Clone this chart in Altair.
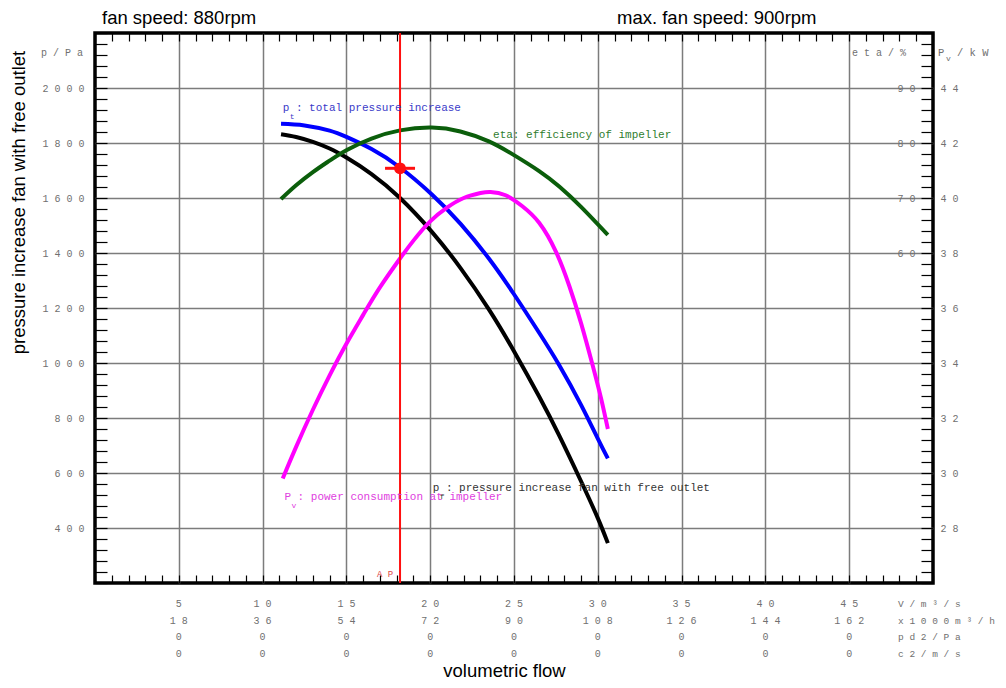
import altair as alt
import pandas as pd

# ---------------- values ----------------
pt_flow = [11.1, 12.5, 14.0, 15.0, 16.5, 18.2, 20.1, 21.8, 23.5, 25.0, 26.5, 27.7, 29.0, 30.0, 30.6]
pt_pa = [1870, 1864, 1845, 1822, 1778, 1711, 1613, 1507, 1380, 1250, 1110, 992, 848, 725, 653]

pf_flow = [11.1, 12.0, 13.0, 14.0, 15.0, 16.5, 18.2, 20.1, 21.8, 23.5, 25.0, 26.5, 27.7, 29.0, 30.0, 30.6]
pf_pa = [1832, 1822, 1804, 1780, 1747, 1687, 1600, 1477, 1346, 1195, 1043, 878, 736, 570, 436, 345]

eta_flow = [11.1, 12.0, 13.0, 14.0, 15.0, 16.5, 18.2, 20.1, 21.8, 23.5, 25.0, 26.5, 27.7, 29.0, 30.6]
eta_pct = [69.8, 72.3, 74.7, 76.8, 78.7, 80.8, 82.3, 82.8, 82.1, 80.3, 77.8, 74.9, 72.1, 68.4, 63.3]

pv_flow = [11.2, 12.0, 13.0, 14.0, 15.0, 16.0, 17.0, 18.2, 19.0, 20.0, 21.0, 22.0, 23.0, 23.6,
           24.5, 25.5, 26.5, 27.5, 28.3, 29.0, 29.7, 30.2, 30.6]
pv_kw = [29.8, 30.95, 32.3, 33.55, 34.7, 35.75, 36.75, 37.8, 38.45, 39.15, 39.65, 40.0, 40.18, 40.22,
         40.1, 39.7, 39.1, 38.05, 36.8, 35.45, 33.9, 32.7, 31.6]

ap_flow = [18.2]
ap_pa = [1708]

flow_ticks = [5, 10, 15, 20, 25, 30, 35, 40, 45]
flow_m3h = [18, 36, 54, 72, 90, 108, 126, 144, 162]
pd2_pa = [0, 0, 0, 0, 0, 0, 0, 0, 0]
c2_ms = [0, 0, 0, 0, 0, 0, 0, 0, 0]
unit_rows = ["V/m³/s", "x1000m³/h", "pd2/Pa", "c2/m/s"]

p_ticks = [400, 600, 800, 1000, 1200, 1400, 1600, 1800, 2000]
eta_ticks = [60, 70, 80, 90]
pv_ticks = [28, 30, 32, 34, 36, 38, 40, 42, 44]

curve_names = ["pt", "eta", "pf", "pv"]
curve_text = ["p  : total pressure increase",
              "eta: efficiency of impeller",
              "p  : pressure increase fan with free outlet",
              "P  : power consumption at impeller"]
curve_sub = ["t", "", "f", "v"]
label_flow = [11.2, 23.75, 20.15, 11.3]
label_pa = [1927, 1829, 545, 513]
label_colors = ["#3a3ac8", "#2e7d2e", "#333333", "#e040e0"]

# ---------------- styling ----------------
W, H = 838, 550
MONO = "Liberation Mono"
SANS = "Liberation Sans"
GRAY = "#707070"
GRID = "#7c7c7c"
SPACED = "join(split(format(datum.value, 'd'), ''), ' ')"


def sp(s):
    return " ".join(str(s))


X = alt.Scale(domain=[0, 50], nice=False, zero=False)
P = alt.Scale(domain=[200, 2200], nice=False, zero=False)
ETA = alt.Scale(domain=[0, 100], nice=False, zero=False)
PV = alt.Scale(domain=[26, 46], nice=False, zero=False)

minor_x = list(range(0, 51))
minor_p = list(range(200, 2201, 40))
minor_pv = [round(26 + 0.4 * i, 1) for i in range(51)]

pt_df = pd.DataFrame({"flow": pt_flow, "v": pt_pa})
pf_df = pd.DataFrame({"flow": pf_flow, "v": pf_pa})
eta_df = pd.DataFrame({"flow": eta_flow, "v": eta_pct})
pv_df = pd.DataFrame({"flow": pv_flow, "v": pv_kw})
ap_df = pd.DataFrame({"flow": ap_flow, "v": ap_pa})
lab_df = pd.DataFrame({"name": curve_names, "txt": curve_text, "sub": curve_sub,
                       "flow": label_flow, "v": label_pa})
bottom_df = pd.DataFrame({
    "flow": flow_ticks,
    "txt": ["\n".join([sp(a), sp(b), sp(c), sp(d)])
            for a, b, c, d in zip(flow_ticks, flow_m3h, pd2_pa, c2_ms)],
})

line_kw = dict(strokeWidth=4, interpolate="natural")
TITLE_SIZE = 18.5

# black curve: grid axes + titles
pf_line = alt.Chart(pf_df).mark_line(color="black", **line_kw).encode(
    x=alt.X("flow:Q", scale=X, axis=alt.Axis(
        orient="bottom", values=flow_ticks, grid=True, gridColor=GRID, gridWidth=1.5,
        domain=False, ticks=False, labels=False, zindex=0,
        title="volumetric flow", titleFont=SANS, titleFontSize=TITLE_SIZE, titleFontWeight="normal",
        titleColor="black", titleX=409, titleY=93, titleAlign="center", titleBaseline="alphabetic")),
    y=alt.Y("v:Q", scale=P, axis=alt.Axis(
        orient="left", values=p_ticks, grid=True, gridColor=GRID, gridWidth=1.5,
        domain=False, ticks=False, labels=False, zindex=0,
        title="pressure increase fan with free outlet", titleFont=SANS, titleFontSize=TITLE_SIZE,
        titleFontWeight="normal", titleColor="black", titleAngle=270, titleX=-71, titleY=169,
        titleAlign="center", titleBaseline="alphabetic")),
)

# blue curve: bottom ticks + left pressure axis
pt_line = alt.Chart(pt_df).mark_line(color="#0000ff", **line_kw).encode(
    x=alt.X("flow:Q", scale=X, axis=alt.Axis(
        orient="bottom", values=minor_x, offset=-8, tickSize=8, tickColor="black", tickWidth=1.2,
        domain=False, labels=False, grid=False, title=None, zindex=1)),
    y=alt.Y("v:Q", scale=P, axis=alt.Axis(
        orient="left", values=minor_p, offset=-12, tickSize=12, tickColor="black", tickWidth=1.2,
        domain=False, grid=False, title=None, zindex=1,
        labelExpr=f"indexof({p_ticks}, datum.value) >= 0 ? {SPACED} : ''",
        labelFont=MONO, labelFontSize=10, labelColor=GRAY, labelPadding=11,
        labelAlign="right", labelBaseline="middle", labelOverlap=False, labelFlush=False)),
)

# green curve: top ticks + eta axis
eta_line = alt.Chart(eta_df).mark_line(color="#0b5e0b", **line_kw).encode(
    x=alt.X("flow:Q", scale=X, axis=alt.Axis(
        orient="top", values=minor_x, offset=-8, tickSize=8, tickColor="black", tickWidth=1.2,
        domain=False, labels=False, grid=False, title=None, zindex=1)),
    y=alt.Y("v:Q", scale=ETA, axis=alt.Axis(
        orient="right", values=eta_ticks, offset=-18, ticks=False, domain=False, grid=False,
        title=None, zindex=1, labelExpr=SPACED, labelFont=MONO, labelFontSize=10,
        labelColor=GRAY, labelPadding=0, labelAlign="right", labelBaseline="middle",
        labelOverlap=False, labelFlush=False)),
)

# magenta curve: right power axis
pv_line = alt.Chart(pv_df).mark_line(color="#ff00ff", **line_kw).encode(
    x=alt.X("flow:Q", scale=X, axis=None),
    y=alt.Y("v:Q", scale=PV, axis=alt.Axis(
        orient="right", values=minor_pv, offset=-12, tickSize=12, tickColor="black", tickWidth=1.2,
        domain=False, grid=False, title=None, zindex=1,
        labelExpr=f"indexof({pv_ticks}, datum.value) >= 0 ? {SPACED} : ''",
        labelFont=MONO, labelFontSize=10, labelColor=GRAY, labelPadding=7,
        labelAlign="left", labelBaseline="middle", labelOverlap=False, labelFlush=False)),
)

# operating point
ap_rule = alt.Chart(ap_df).mark_rule(color="#ff1010", strokeWidth=2).encode(
    x=alt.X("flow:Q", scale=X, axis=None))
ap_bar = alt.Chart(ap_df).mark_point(shape="M-1,0L1,0", size=900, filled=False, stroke="#ff1010",
                                     strokeWidth=3, opacity=1).encode(
    x=alt.X("flow:Q", scale=X, axis=None), y=alt.Y("v:Q", scale=P, axis=None))
ap_dot = alt.Chart(ap_df).mark_circle(size=140, color="#ff1010", opacity=1).encode(
    x=alt.X("flow:Q", scale=X, axis=None), y=alt.Y("v:Q", scale=P, axis=None))
ap_text = alt.Chart(ap_df).mark_text(font=MONO, fontSize=9, color="#e04848", dx=-15,
                                     align="center", baseline="middle").encode(
    x=alt.X("flow:Q", scale=X, axis=None), y=alt.value(541), text=alt.value("A P"))

# curve labels
lab_color = alt.Color("name:N", scale=alt.Scale(domain=curve_names, range=label_colors), legend=None)
labels = alt.Chart(lab_df).mark_text(font=MONO, fontSize=11, align="left", baseline="middle").encode(
    x=alt.X("flow:Q", scale=X, axis=None), y=alt.Y("v:Q", scale=P, axis=None),
    text="txt:N", color=lab_color)
subs = alt.Chart(lab_df).mark_text(font=MONO, fontSize=8, align="left", baseline="middle",
                                   dx=7, dy=9).encode(
    x=alt.X("flow:Q", scale=X, axis=None), y=alt.Y("v:Q", scale=P, axis=None),
    text="sub:N", color=lab_color)

# bottom flow table
bottom = alt.Chart(bottom_df).mark_text(font=MONO, fontSize=10, color=GRAY, align="center",
                                        baseline="top", lineBreak="\n", lineHeight=16.5).encode(
    x=alt.X("flow:Q", scale=X, axis=None), y=alt.value(566), text="txt:N")


def note(txt, x, y, size=10, font=MONO, color=GRAY, align="left", baseline="middle"):
    return alt.Chart(pd.DataFrame({"t": [txt]})).mark_text(
        font=font, fontSize=size, color=color, align=align, baseline=baseline,
        lineBreak="\n", lineHeight=16.5).encode(x=alt.value(x), y=alt.value(y), text="t:N")


units = note("\n".join(sp(u) for u in unit_rows), 803, 566, size=9.5, baseline="top")
notes = [
    note("fan speed: 880rpm", 7, -9, size=TITLE_SIZE, font=SANS, color="black", baseline="alphabetic"),
    note("max. fan speed: 900rpm", 522, -9, size=TITLE_SIZE, font=SANS, color="black",
         baseline="alphabetic"),
    note(sp("p/Pa"), -12, 20, align="right"),
    note(sp("eta/%"), 811, 20, align="right"),
    note("P", 843, 20, size=10.5),
    note("v", 851, 26, size=8),
    note("/ k W", 862, 20, size=10.5),
]

chart = alt.layer(
    pf_line, pt_line, eta_line, pv_line,
    ap_rule, ap_bar, ap_dot, ap_text,
    labels, subs, bottom, units, *notes,
).resolve_scale(
    x="shared", y="independent", color="independent"
).resolve_axis(
    x="independent", y="independent"
).properties(
    width=W, height=H,
    autosize=alt.AutoSizeParams(type="none"),
    padding={"left": 87, "top": 25, "right": 64, "bottom": 97},
    background="white",
).configure_view(stroke="black", strokeWidth=3.5)

chart.save("out.html", embed_options={"renderer": "svg", "actions": False})
